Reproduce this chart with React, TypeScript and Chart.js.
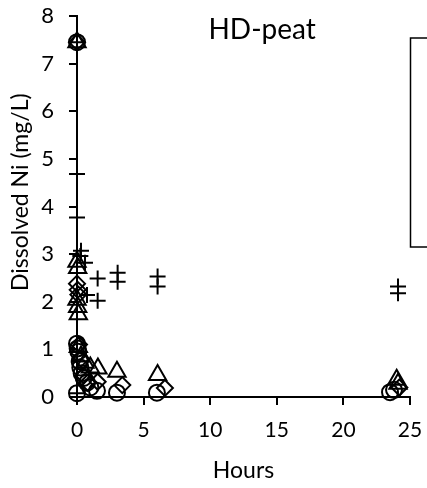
import React, { useEffect, useRef } from "react";
import { Chart, registerables } from "chart.js";

Chart.register(...registerables);

const chartTitle = "HD-peat";
const xAxisTitle = "Hours";
const yAxisTitle = "Dissolved Ni (mg/L)";

// Series drawn with "+" markers
const plusHours = [0, 0, 0, 0.3, 0.25, 0.6, 1.55, 3.05, 3.05, 6.05, 6.05, 1.55, 0.75, 24.1, 24.1, 0];
const plusNi = [7.45, 4.68, 3.77, 3.07, 2.96, 2.82, 2.49, 2.61, 2.42, 2.53, 2.32, 2.02, 2.14, 2.32, 2.18, 0.08];

// Series drawn with triangles
const triHours = [0, 0, 0.05, 0, 0.05, 0.1, 0.1, 0.3, 0.6, 1.0, 1.57, 3.0, 6.05, 24.0, 24.1];
const triNi = [7.45, 2.84, 2.71, 2.04, 1.89, 1.74, 1.05, 0.85, 0.72, 0.62, 0.6, 0.53, 0.46, 0.36, 0.28];

// Series drawn with diamonds
const diaHours = [0, 0, 0.05, 0.1, 0.15, 0.3, 0.5, 0.8, 1.55, 3.4, 6.6, 24.2];
const diaNi = [7.45, 2.38, 2.25, 2.15, 1.1, 0.8, 0.45, 0.3, 0.32, 0.25, 0.19, 0.2];

// Series drawn with circles
const circHours = [0, 0, 0.05, 0.1, 0.2, 0.25, 0.35, 0.5, 0.75, 1.0, 0, 1.5, 3.0, 6.0, 23.5, 23.8];
const circNi = [7.45, 1.12, 1.02, 0.95, 0.75, 0.62, 0.5, 0.4, 0.3, 0.2, 0.08, 0.13, 0.09, 0.09, 0.1, 0.15];

const xTicksMax = 25;
const xStep = 5;
const yTicksMax = 8;
const yStep = 1;

const toPts = (xs: number[], ys: number[]) => xs.map((x, i) => ({ x, y: ys[i] }));

const FONT = "Lato";

const overlayPlugin = {
  id: "overlay",
  afterDraw(chart: any) {
    const ctx = chart.ctx;
    const area = chart.chartArea;
    const xs = chart.scales.x;
    const ys = chart.scales.y;
    ctx.save();
    ctx.fillStyle = "#000";
    ctx.font = `28px ${FONT}`;
    ctx.textAlign = "center";
    ctx.textBaseline = "middle";
    ctx.fillText(chartTitle, xs.getPixelForValue(13.9), area.top + 14);
    // y-axis title
    ctx.save();
    ctx.font = `23px ${FONT}`;
    ctx.translate(21, ys.getPixelForValue(4.3));
    ctx.rotate(-Math.PI / 2);
    ctx.fillText(yAxisTitle, 0, 0);
    ctx.restore();
    ctx.strokeStyle = "#000";
    ctx.lineWidth = 1.5;
    ctx.strokeRect(area.right + 0.5, 38, 60, 209);
    ctx.restore();
  },
};

export default function App() {
  const ref = useRef<HTMLCanvasElement | null>(null);
  useEffect(() => {
    document.body.style.margin = "0";
    const canvas = ref.current!;
    const common = {
      borderColor: "#000",
      backgroundColor: "rgba(0,0,0,0)",
      borderWidth: 2,
      showLine: false,
      clip: false as any,
    };
    const chart = new Chart(canvas, {
      type: "scatter",
      data: {
        datasets: [
          { ...common, label: "A", data: toPts(plusHours, plusNi), pointStyle: "cross", pointRadius: 8 },
          { ...common, label: "B", data: toPts(triHours, triNi), pointStyle: "triangle", pointRadius: 10 },
          { ...common, label: "C", data: toPts(diaHours, diaNi), pointStyle: "rectRot", pointRadius: 8 },
          { ...common, label: "D", data: toPts(circHours, circNi), pointStyle: "circle", pointRadius: 8 },
        ],
      },
      options: {
        responsive: false,
        animation: false,
        devicePixelRatio: 1,
        layout: { padding: { top: 16, right: 17, bottom: 0, left: 0 } },
        plugins: { legend: { display: false }, tooltip: { enabled: false }, title: { display: false } },
        scales: {
          x: {
            type: "linear",
            min: 0,
            max: xTicksMax,
            ticks: { stepSize: xStep, color: "#000", font: { family: FONT, size: 21 }, padding: 13 },
            border: { display: true, color: "#000", width: 2 },
            grid: { display: true, drawOnChartArea: false, drawTicks: true, tickLength: 8, color: "#000", lineWidth: 2 },
            title: { display: true, text: xAxisTitle, color: "#000", font: { family: FONT, size: 23 }, padding: { top: 0, bottom: 4 } },
            afterFit: (s: any) => { s.height = 91; s.paddingLeft = 0; s.paddingRight = 0; },
          },
          y: {
            type: "linear",
            min: 0,
            max: yTicksMax,
            ticks: { stepSize: yStep, color: "#000", font: { family: FONT, size: 22 }, padding: 15 },
            border: { display: true, color: "#000", width: 2 },
            grid: { display: true, drawOnChartArea: false, drawTicks: true, tickLength: 8, color: "#000", lineWidth: 2 },
            title: { display: false },
            afterFit: (s: any) => { s.width = 77; s.paddingTop = 0; s.paddingBottom = 0; },
          },
        },
      },
      plugins: [overlayPlugin],
    });
    return () => chart.destroy();
  }, []);
  return <canvas ref={ref} width={427} height={488} style={{ display: "block" }} />;
}
